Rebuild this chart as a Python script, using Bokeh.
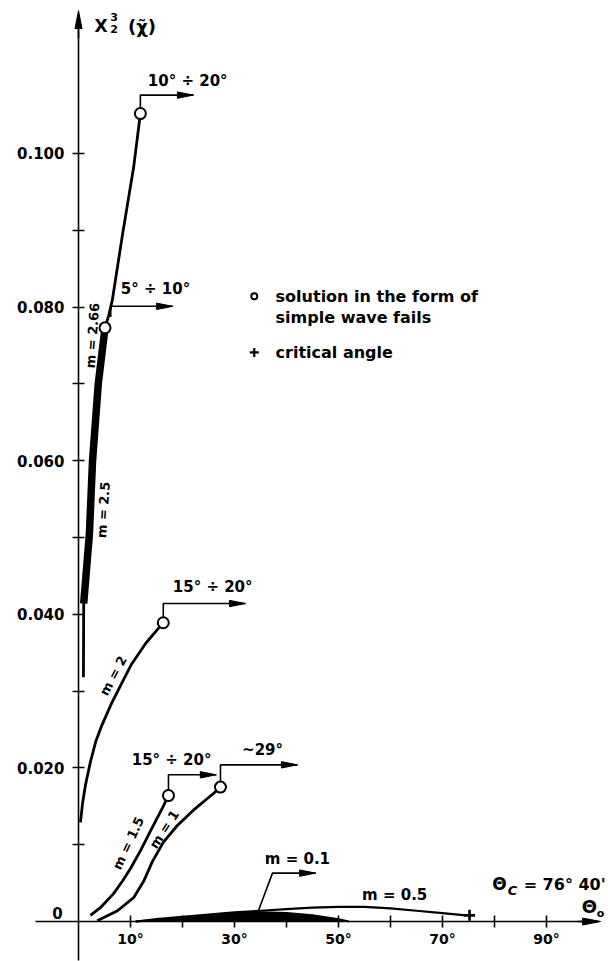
from bokeh.plotting import figure
from bokeh.models import Range1d, LinearAxis, FixedTicker, PrintfTickFormatter
from bokeh.core.properties import value
from bokeh.embed import file_html
from bokeh.resources import INLINE

# ---------------- data (theta in degrees, chi in units of X_2^3) ----------------
theta_m266 = [0.95, 1.0, 2.1, 2.7, 3.8, 5.1, 5.8, 6.5, 8.5, 10.6, 11.9]
chi_m266 = [0.0318, 0.0414, 0.0505, 0.0600, 0.0700, 0.0773, 0.0789, 0.0809, 0.0896, 0.0982, 0.1052]

theta_m25 = [1.0, 2.1, 2.7, 3.8, 5.1]
chi_m25 = [0.0414, 0.0505, 0.0600, 0.0700, 0.0773]

theta_m2 = [0.38, 0.8, 1.35, 2.3, 3.3, 4.4, 6.35, 8.3, 10.2, 12.9, 15.4, 16.3]
chi_m2 = [0.0129, 0.0155, 0.0178, 0.0208, 0.0234, 0.0254, 0.0284, 0.0310, 0.0335, 0.0362, 0.0382, 0.0389]

theta_m15 = [2.3, 4.2, 6.7, 8.5, 10.0, 11.9, 13.85, 16.15, 17.3]
chi_m15 = [0.0008, 0.0018, 0.0036, 0.0053, 0.0069, 0.0092, 0.0118, 0.0148, 0.0164]

theta_m1 = [3.6, 7.5, 10.6, 12.5, 14.2, 16.3, 19.0, 22.1, 26.0, 27.3]
chi_m1 = [0.0001, 0.0014, 0.0031, 0.0052, 0.0078, 0.0103, 0.0125, 0.0145, 0.0167, 0.0175]

theta_m05 = [11, 15, 20, 25, 30, 35, 40, 45, 50, 55, 60, 65, 70, 74.5]
chi_m05 = [0.0, 0.0003, 0.0006, 0.0009, 0.0012, 0.0014, 0.0016, 0.0018, 0.0019, 0.0019, 0.0017, 0.0014, 0.0011, 0.0008]

theta_m01 = [11, 15, 20, 25, 30, 35, 40, 45, 50, 52]
chi_m01 = [0.0, 0.0002, 0.0005, 0.0008, 0.0011, 0.0012, 0.0011, 0.0008, 0.0003, 0.0]

# points where the simple-wave solution fails (open circles)
fail_theta = [11.9, 5.1, 16.3, 17.3, 27.3]
fail_chi = [0.1052, 0.0773, 0.0389, 0.0164, 0.0175]

# critical angle (+)
crit_theta = [75.2]
crit_chi = [0.0008]

# bracket arrows: start (theta, chi), top chi, arrow tip theta
br_theta0 = [11.9, 6.2, 16.3, 17.3, 27.3]
br_chi0 = [0.1052, 0.0787, 0.0389, 0.0164, 0.0175]
br_chi1 = [0.1076, 0.0801, 0.0414, 0.0191, 0.0204]
br_tip = [22.1, 18.1, 32.1, 26.5, 42.1]
br_text = ["10° ÷ 20°", "5° ÷ 10°", "15° ÷ 20°", "15° ÷ 20°", "~29°"]
br_text_theta = [21.0, 14.8, 25.8, 17.9, 35.4]
br_text_chi = [0.1095, 0.0824, 0.0435, 0.0210, 0.0223]

# m = 0.1 pointer
m01_ptr_theta = [34.6, 37.3, 45.6]
m01_ptr_chi = [0.0014, 0.0063, 0.0063]

# curve labels
curve_text = ["m = 2.66", "m = 2.5", "m = 2", "m = 1.5", "m = 1"]
curve_text_theta = [2.7, 4.8, 6.7, 9.6, 16.5]
curve_text_chi = [0.0763, 0.0536, 0.0320, 0.0102, 0.0120]
curve_text_angle = [86, 86, 62, 65, 57]

flat_text = ["m = 0.1", "m = 0.5"]
flat_text_theta = [42.1, 60.8]
flat_text_chi = [0.0082, 0.0034]

# ticks
x_major = [10, 30, 50, 70, 90]
x_minor = [20, 40, 60, 80]
x_labels = ["10°", "30°", "50°", "70°", "90°"]
y_major = [0.02, 0.04, 0.06, 0.08, 0.10]
y_minor = [0.01, 0.03, 0.05, 0.07, 0.09]

# ---------------- figure ----------------
W, H = 608, 961
XR = (-15.0, 101.92)
YR = (-0.005208, 0.11992)
sx = W / (XR[1] - XR[0])
sy = H / (YR[1] - YR[0])

FONT = value("DejaVu Sans")

p = figure(width=W, height=H, x_range=Range1d(*XR), y_range=Range1d(*YR),
           x_axis_type=None, y_axis_type=None, toolbar_location=None,
           output_backend="svg", min_border=0)
p.outline_line_color = None
p.background_fill_color = "white"

xaxis = LinearAxis(fixed_location=0,
                   ticker=FixedTicker(ticks=x_major, minor_ticks=x_minor),
                   bounds=(-8.3, 97.0))
xaxis.major_label_overrides = {t: l for t, l in zip(x_major, x_labels)}
yaxis = LinearAxis(fixed_location=0,
                   ticker=FixedTicker(ticks=y_major, minor_ticks=y_minor),
                   formatter=PrintfTickFormatter(format="%.3f"),
                   bounds=(-0.0051, 0.116))
for ax in (xaxis, yaxis):
    ax.axis_line_width = 1.6
    ax.axis_line_color = "black"
    ax.major_tick_in = 6
    ax.major_tick_out = 6
    ax.minor_tick_in = 6
    ax.minor_tick_out = 6
    ax.major_tick_line_width = 1.6
    ax.minor_tick_line_width = 1.6
    ax.major_tick_line_color = "black"
    ax.minor_tick_line_color = "black"
    ax.major_label_text_font = "DejaVu Sans"
    ax.major_label_text_font_style = "bold"
    ax.major_label_text_color = "black"
xaxis.major_label_text_font_size = "14px"
yaxis.major_label_text_font_size = "15px"
xaxis.major_label_standoff = 3
yaxis.major_label_standoff = 8
p.add_layout(xaxis, "below")
p.add_layout(yaxis, "left")


def head(tx, ty, direction="right", L=16, Wd=3.2):
    if direction == "right":
        return ([tx, tx - L / sx, tx - L / sx], [ty, ty + Wd / sy, ty - Wd / sy])
    return ([tx, tx + Wd / sx, tx - Wd / sx], [ty, ty - L / sy, ty - L / sy])


# axis arrow heads
hx, hy = [], []
for a, b in [head(100.4, 0.0, "right", 18, 3.5), head(0.0, 0.1186, "up", 18, 3.5)]:
    hx.append(a)
    hy.append(b)
p.line([96.0, 100.0], [0.0, 0.0], line_color="black", line_width=1.6)
p.line([0.0, 0.0], [0.115, 0.118], line_color="black", line_width=1.6)

# m = 0.1 : filled thin wedge
p.varea(x=theta_m01, y1=[0.0] * len(theta_m01), y2=chi_m01, fill_color="black")
p.line(theta_m01, chi_m01, line_color="black", line_width=2)

# curves
p.line(theta_m05, chi_m05, line_color="black", line_width=2.2)
p.line(theta_m1, chi_m1, line_color="black", line_width=2.8)
p.line(theta_m15, chi_m15, line_color="black", line_width=2.8)
p.line(theta_m2, chi_m2, line_color="black", line_width=2.8)
p.line(theta_m25, chi_m25, line_color="black", line_width=7.5)
p.line(theta_m266, chi_m266, line_color="black", line_width=2.8)

# bracket arrows
bxs = [[t0, t0, tip] for t0, tip in zip(br_theta0, br_tip)]
bys = [[c0, c1, c1] for c0, c1 in zip(br_chi0, br_chi1)]
p.multi_line(bxs, bys, line_color="black", line_width=1.6)
p.line(m01_ptr_theta, m01_ptr_chi, line_color="black", line_width=1.6)
for tip, c1 in zip(br_tip + [m01_ptr_theta[-1]], br_chi1 + [m01_ptr_chi[-1]]):
    a, b = head(tip, c1)
    hx.append(a)
    hy.append(b)
p.patches(hx, hy, fill_color="black", line_color="black", line_width=1)

# markers
p.scatter(fail_theta, fail_chi, marker="circle", size=11, fill_color="white",
          line_color="black", line_width=2)
p.scatter(crit_theta, crit_chi, marker="cross", size=11, line_color="black", line_width=2.6)

# texts
p.text(br_text_theta, br_text_chi, text=br_text, text_font=FONT, text_font_size="15px",
       text_font_style="bold", text_align="center", text_baseline="middle", text_color="black")
for t, x, y, a in zip(curve_text, curve_text_theta, curve_text_chi, curve_text_angle):
    p.text([x], [y], text=[t], angle=a, angle_units="deg", text_font=FONT,
           text_font_size="13px", text_font_style="bold", text_align="center",
           text_baseline="middle", text_color="black")
p.text(flat_text_theta, flat_text_chi, text=flat_text, text_font=FONT, text_font_size="15px",
       text_font_style="bold", text_align="center", text_baseline="middle", text_color="black")

# origin label
p.text([-4.04], [0.00117], text=["0"], text_font=FONT, text_font_size="15px",
       text_font_style="bold", text_align="center", text_baseline="middle", text_color="black")

# y-axis title X_2^3 (chi~)
p.text([4.33], [0.11654], text=["X"], text_font=FONT, text_font_size="17px",
       text_font_style="bold", text_align="center", text_baseline="middle", text_color="black")
p.text([6.83, 6.83], [0.11777, 0.11621], text=["3", "2"], text_font=FONT,
       text_font_size="11px", text_font_style="bold", text_align="center",
       text_baseline="middle", text_color="black")
p.text([9.5], [0.11654], text=["(\u03c7\u0303)"], text_font=FONT, text_font_size="18px",
       text_font_style="bold", text_align="left", text_baseline="middle", text_color="black")

# theta_c label
p.text([80.96], [0.00482], text=["Θ"], text_font=FONT, text_font_size="17px",
       text_font_style="bold", text_align="center", text_baseline="middle", text_color="black")
p.text([83.46], [0.00404], text=["C"], text_font=FONT, text_font_size="13px",
       text_font_style="bold italic", text_align="center", text_baseline="middle",
       text_color="black")
p.text([85.6], [0.00482], text=["= 76° 40'"], text_font=FONT, text_font_size="16px",
       text_font_style="bold", text_align="left", text_baseline="middle", text_color="black")

# x-axis title theta_o
p.text([98.27], [0.00195], text=["Θ"], text_font=FONT, text_font_size="18px",
       text_font_style="bold", text_align="center", text_baseline="middle", text_color="black")
p.text([100.38], [0.00104], text=["o"], text_font=FONT, text_font_size="11px",
       text_font_style="bold", text_align="center", text_baseline="middle", text_color="black")

# legend
p.scatter([33.8], [0.0814], marker="circle", size=6, fill_color="white",
          line_color="black", line_width=2)
p.scatter([33.8], [0.0741], marker="cross", size=9, line_color="black", line_width=2.2)
p.text([37.9, 37.9, 37.9], [0.0814, 0.0787, 0.0741],
       text=["solution in the form of", "simple wave fails", "critical angle"],
       text_font=FONT, text_font_size="16px", text_font_style="bold", text_align="left",
       text_baseline="middle", text_color="black")

open("out.html", "w").write(file_html(p, INLINE))
